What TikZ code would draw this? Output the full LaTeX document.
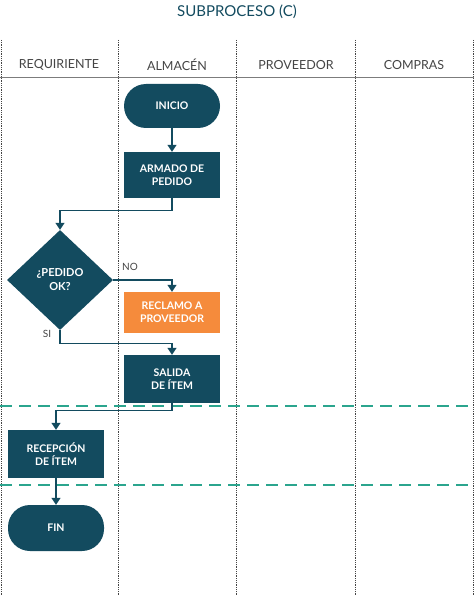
\documentclass[tikz,border=0pt]{standalone}
\usepackage{fontspec}
\setmainfont{Lato}
\usetikzlibrary{shapes.geometric,arrows.meta}
\definecolor{dk}{HTML}{134B5F}
\definecolor{org}{HTML}{F58B3C}
\definecolor{tl}{HTML}{2BA58E}
\definecolor{gr}{HTML}{444444}
\begin{document}
\begin{tikzpicture}[x=1pt,y=-1pt,
  box/.style={fill=dk,text=white,minimum width=96pt,minimum height=46pt,align=center,font=\fontsize{10.5}{13}\selectfont\bfseries,inner sep=1pt},
  pill/.style={box,rounded corners=22pt},
  dia/.style={diamond,fill=dk,text=white,minimum width=106pt,minimum height=100pt,inner sep=0pt,align=center,font=\fontsize{11}{14}\selectfont\bfseries},
  arr/.style={draw=dk,line width=1.4pt,-{Triangle[length=7pt,width=9pt]}},
  lane/.style={gr,densely dotted,line width=0.8pt},
  hdr/.style={gr,font=\fontsize{12.5}{14}\selectfont}]
\useasboundingbox (0,0) rectangle (474,596);
\node[dk,font=\fontsize{15}{18}\selectfont] (t) at (237,12) {SUBPROCESO (C)};
\foreach \x in {1,118,236,355,473}{\draw[lane] (\x,40) -- (\x,596);}
\draw[gr!70,line width=0.8pt] (0,77) -- (474,77);
\node[hdr] (h1) at (59,65) {REQUIRIENTE};
\node[hdr] (h2) at (177,65) {ALMACÉN};
\node[hdr] (h3) at (296,65) {PROVEEDOR};
\node[hdr] (h4) at (414,65) {COMPRAS};
\draw[tl,dash pattern=on 12pt off 7pt,line width=1.5pt] (0,406) -- (474,406);
\draw[tl,dash pattern=on 12pt off 7pt,line width=1.5pt] (0,485) -- (474,485);
\node[pill,minimum height=44pt] (ini) at (172,106) {INICIO};
\node[box] (arm) at (172,175) {ARMADO DE\\PEDIDO};
\node[dia] (ok) at (60,280) {¿PEDIDO\\OK?};
\node[box,fill=org,minimum height=41pt] (rec) at (172,312.5) {RECLAMO A\\PROVEEDOR};
\node[box,minimum height=48pt] (sal) at (172,379) {SALIDA\\DE ÍTEM};
\node[box,minimum height=48pt] (rcp) at (56,454) {RECEPCIÓN\\DE ÍTEM};
\node[pill] (fin) at (56,528) {FIN};
\draw[arr] (ini) -- (arm);
\draw[arr] (arm.south) -- ++(0,12) -| (ok.north);
\draw[arr] (ok.east) -| (rec.north);
\draw[arr] (ok.south) -- ++(0,13) -| (sal.north);
\draw[arr] (sal.south) -- ++(0,7) -| (rcp.north);
\draw[arr] (rcp) -- (fin);
\node[gr,font=\fontsize{10}{12}\selectfont] (no) at (130,267) {NO};
\node[gr,font=\fontsize{10}{12}\selectfont] (si) at (47,334) {SI};
\end{tikzpicture}
\end{document}
